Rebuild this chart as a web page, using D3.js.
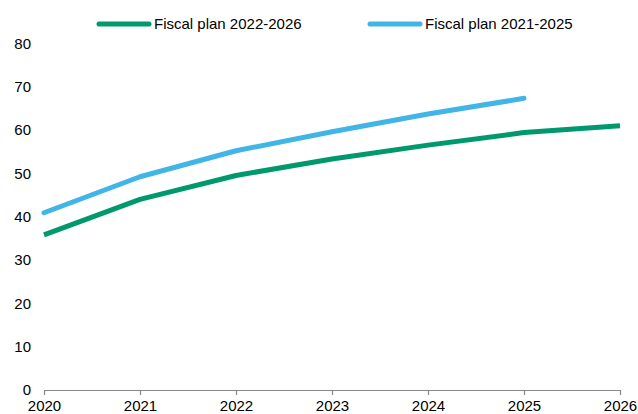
<!DOCTYPE html>
<html>
<head>
<meta charset="utf-8">
<script src="https://cdn.jsdelivr.net/npm/d3@7"></script>
<style>
  html, body { margin: 0; padding: 0; background: #fff; }
  svg { display: block; font-family: "Liberation Sans", Arial, sans-serif; }
</style>
</head>
<body>
<svg id="chart" width="638" height="414"></svg>
<script>
// Years on the x axis
const years = [2020, 2021, 2022, 2023, 2024, 2025, 2026];
// Fiscal plan 2022-2026
const plan2022 = [35.8, 44.0, 49.5, 53.3, 56.5, 59.4, 61.0];
// Fiscal plan 2021-2025
const plan2021 = [40.9, 49.2, 55.2, 59.6, 63.7, 67.3];
const yTicks = [0, 10, 20, 30, 40, 50, 60, 70, 80];
const seriesNames = ["Fiscal plan 2022-2026", "Fiscal plan 2021-2025"];
const seriesColors = ["#00996E", "#41B6E6"];

const fontSize = 15;
const svg = d3.select("#chart");
const x = d3.scaleLinear().domain([2020, 2026]).range([44, 620]);
const y = d3.scaleLinear().domain([0, 80]).range([390, 43.3]);

// y tick labels (no axis line)
const yAxis = d3.axisLeft(y).tickValues(yTicks).tickSize(0).tickPadding(13);
const gy = svg.append("g").attr("transform", "translate(44,0)").call(yAxis);
gy.select(".domain").remove();
gy.selectAll("text").attr("font-size", fontSize).attr("fill", "#000")
  .attr("font-family", "Liberation Sans, Arial, sans-serif");

// x axis with downward ticks
const xAxis = d3.axisBottom(x).tickValues(years).tickFormat(d3.format("d"))
  .tickSizeInner(5).tickSizeOuter(0).tickPadding(5);
const gx = svg.append("g").attr("transform", "translate(0,390)").call(xAxis);
gx.select(".domain").attr("stroke", "#888").attr("stroke-width", 1.2);
gx.selectAll(".tick line").attr("stroke", "#888").attr("stroke-width", 1.2);
gx.selectAll("text").attr("font-size", fontSize).attr("fill", "#000")
  .attr("font-family", "Liberation Sans, Arial, sans-serif");

const line = d3.line().x((d, i) => x(years[i])).y(d => y(d));

[plan2022, plan2021].forEach((vals, k) => {
  svg.append("path")
    .datum(vals)
    .attr("d", line)
    .attr("fill", "none")
    .attr("stroke", seriesColors[k])
    .attr("stroke-width", 5)
    .attr("stroke-linejoin", "round")
    .attr("stroke-linecap", k === 1 ? "round" : "butt");
});

// legend
const legendX = [99, 370];
seriesNames.forEach((name, k) => {
  const g = svg.append("g").attr("transform", `translate(${legendX[k]},24)`);
  g.append("line").attr("x1", 0).attr("x2", 50).attr("y1", 0).attr("y2", 0)
    .attr("stroke", seriesColors[k]).attr("stroke-width", 5).attr("stroke-linecap", "round");
  g.append("text").attr("x", 55).attr("y", 0).attr("dy", "0.35em")
    .attr("font-size", fontSize).attr("fill", "#000").text(name);
});
</script>
</body>
</html>
